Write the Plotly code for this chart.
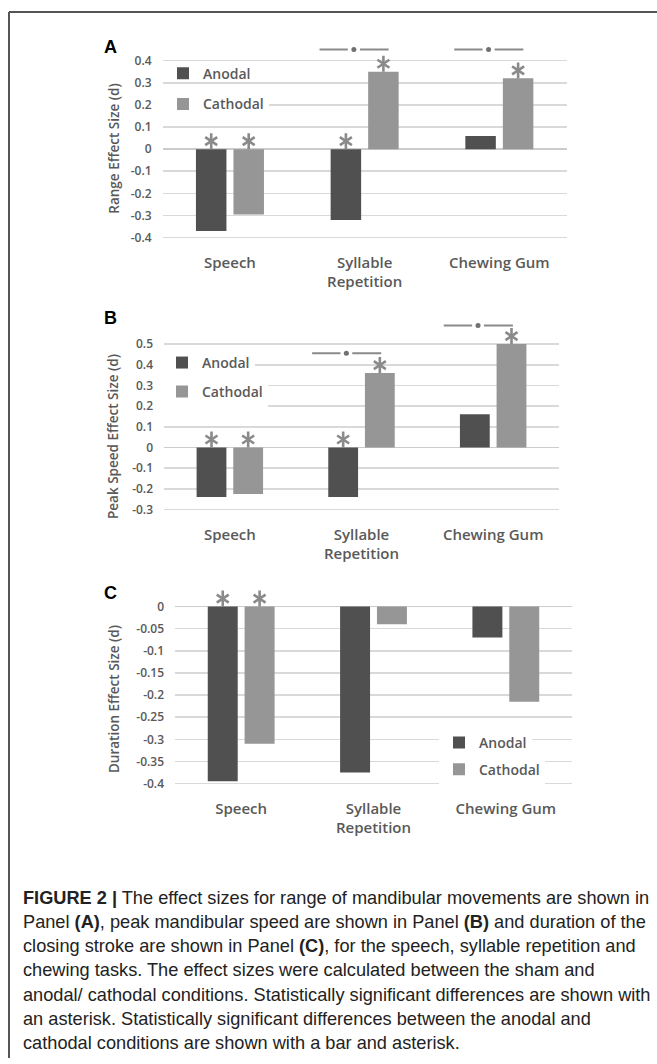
import plotly.graph_objects as go

W, H = 657, 1064

# ---------------- data ----------------
TICK_LABELS = ["Speech", "Syllable<br>Repetition", "Chewing Gum"]
SERIES = ["Anodal", "Cathodal"]

RANGE_ANODAL = [-0.37, -0.32, 0.06]
RANGE_CATHODAL = [-0.295, 0.35, 0.32]
SPEED_ANODAL = [-0.24, -0.24, 0.16]
SPEED_CATHODAL = [-0.225, 0.36, 0.50]
DURATION_ANODAL = [-0.395, -0.375, -0.07]
DURATION_CATHODAL = [-0.31, -0.04, -0.215]

# significant vs sham (asterisk above the bar)
RANGE_SIG_ANODAL = [True, True, False]
RANGE_SIG_CATHODAL = [True, True, True]
SPEED_SIG_ANODAL = [True, True, False]
SPEED_SIG_CATHODAL = [True, True, True]
DURATION_SIG_ANODAL = [True, False, False]
DURATION_SIG_CATHODAL = [True, False, False]

# significant anodal vs cathodal (bar + asterisk)
RANGE_PAIR_SIG = [False, True, True]
SPEED_PAIR_SIG = [False, True, True]
DURATION_PAIR_SIG = [False, False, False]

RANGE_TICKS = [-0.4, -0.3, -0.2, -0.1, 0, 0.1, 0.2, 0.3, 0.4]
SPEED_TICKS = [-0.3, -0.2, -0.1, 0, 0.1, 0.2, 0.3, 0.4, 0.5]
DURATION_TICKS = [-0.4, -0.35, -0.3, -0.25, -0.2, -0.15, -0.1, -0.05, 0]

CAPTION_LINES = [
    "<b>FIGURE 2 |</b> The effect sizes for range of mandibular movements are shown in",
    "Panel <b>(A)</b>, peak mandibular speed are shown in Panel <b>(B)</b> and duration of the",
    "closing stroke are shown in Panel <b>(C)</b>, for the speech, syllable repetition and",
    "chewing tasks. The effect sizes were calculated between the sham and",
    "anodal/ cathodal conditions. Statistically significant differences are shown with",
    "an asterisk. Statistically significant differences between the anodal and",
    "cathodal conditions are shown with a bar and asterisk.",
]

# ---------------- style ----------------
ANODAL_COLOR = "#505050"
CATHODAL_COLOR = "#969696"
STAR_COLOR = "#8a8a8a"
GRID_COLOR = "#d9d9d9"
ZERO_COLOR = "#cccccc"
TEXT_COLOR = "#595959"
CHART_FONT = "Open Sans, Lato, sans-serif"
BARGAP = 0.443
BARGROUPGAP = 0.187
ASTER_PX = 8.0

PANELS = [
    dict(letter="A", title="Range Effect Size (d)",
         anodal=RANGE_ANODAL, cathodal=RANGE_CATHODAL,
         sig_a=RANGE_SIG_ANODAL, sig_c=RANGE_SIG_CATHODAL, pair=RANGE_PAIR_SIG,
         ticks=RANGE_TICKS,
         zero_px=150.0, ppu=222.5, yrange=(-0.41, 0.50), xpx=(162.6, 566.7),
         bracket_y=[0.45, 0.45, 0.45], bracket=(-0.335, -0.08, 0.178),
         letter_xy=(110, 47), title_xy=(114, 149.5),
         legend_xy=[(203, 74), (203, 105)], legend_bg=["rgba(0,0,0,0)", "white"]),
    dict(letter="B", title="Peak Speed Effect Size (d)",
         anodal=SPEED_ANODAL, cathodal=SPEED_CATHODAL,
         sig_a=SPEED_SIG_ANODAL, sig_c=SPEED_SIG_CATHODAL, pair=SPEED_PAIR_SIG,
         ticks=SPEED_TICKS,
         zero_px=450.0, ppu=208.0, yrange=(-0.31, 0.65), xpx=(164.0, 559.0),
         bracket_y=[0.455, 0.455, 0.59], bracket=(-0.375, -0.115, 0.15),
         letter_xy=(110, 320), title_xy=(113, 439.5),
         legend_xy=[(202, 365), (202, 394)], legend_bg=["white", "white"]),
    dict(letter="C", title="Duration Effect Size (d)",
         anodal=DURATION_ANODAL, cathodal=DURATION_CATHODAL,
         sig_a=DURATION_SIG_ANODAL, sig_c=DURATION_SIG_CATHODAL, pair=DURATION_PAIR_SIG,
         ticks=DURATION_TICKS,
         zero_px=610.0, ppu=445.0, yrange=(-0.405, 0.04), xpx=(175.0, 572.0),
         bracket_y=[0, 0, 0], bracket=(-0.35, -0.1, 0.16),
         letter_xy=(110, 596), title_xy=(114, 703),
         legend_xy=[(479, 747), (479, 774)], legend_bg=["white", "white"]),
]

fig = go.Figure()
layout = dict(
    width=W, height=H, margin=dict(l=0, r=0, t=0, b=0),
    paper_bgcolor="white", plot_bgcolor="white",
    barmode="group", bargap=BARGAP, bargroupgap=BARGROUPGAP,
    showlegend=True,
    annotations=[], shapes=[],
)

slot = (1 - BARGAP) / 2
legend_idx = 0
for p_i, P in enumerate(PANELS):
    n = p_i + 1
    xa = "x" if n == 1 else f"x{n}"
    ya = "y" if n == 1 else f"y{n}"
    xkey = "xaxis" if n == 1 else f"xaxis{n}"
    ykey = "yaxis" if n == 1 else f"yaxis{n}"

    # bars + legends
    for s_i, (name, vals, color) in enumerate(
            [(SERIES[0], P["anodal"], ANODAL_COLOR), (SERIES[1], P["cathodal"], CATHODAL_COLOR)]):
        legend_idx += 1
        lkey = "legend" if legend_idx == 1 else f"legend{legend_idx}"
        fig.add_trace(go.Bar(
            x=[0, 1, 2], y=vals, name=name, marker=dict(color=color, line=dict(width=0)),
            xaxis=xa, yaxis=ya, legend=lkey, showlegend=True, hoverinfo="skip"))
        tx, ty = P["legend_xy"][s_i]
        layout[lkey] = dict(
            x=(tx - 40) / W, y=1 - ty / H, xanchor="left", yanchor="middle",
            bgcolor=P["legend_bg"][s_i], borderwidth=0,
            font=dict(family=CHART_FONT, size=14, color=TEXT_COLOR, weight=600),
        )

    # asterisks (significant vs sham)
    for s_i, (vals, sig) in enumerate([(P["anodal"], P["sig_a"]), (P["cathodal"], P["sig_c"])]):
        sign = -1 if s_i == 0 else 1
        xs = [i + sign * slot / 2 for i in range(3) if sig[i]]
        ys = [max(vals[i], 0) + ASTER_PX / P["ppu"] for i in range(3) if sig[i]]
        for sym in ("y-up-open", "y-down-open"):
            fig.add_trace(go.Scatter(
                x=xs, y=ys, mode="markers", xaxis=xa, yaxis=ya, showlegend=False,
                hoverinfo="skip", cliponaxis=False,
                marker=dict(symbol=sym, size=10, color=STAR_COLOR,
                            line=dict(width=2.6, color=STAR_COLOR))))

    # brackets (anodal vs cathodal)
    b0, bd, b1 = P["bracket"]
    gap = 0.045
    for i in range(3):
        if P["pair"][i]:
            y = P["bracket_y"][i]
            fig.add_trace(go.Scatter(
                x=[i + b0, i + bd - gap, None, i + bd + gap, i + b1], y=[y, y, None, y, y],
                mode="lines", line=dict(color=STAR_COLOR, width=2), xaxis=xa, yaxis=ya,
                showlegend=False, hoverinfo="skip", cliponaxis=False))
            fig.add_trace(go.Scatter(
                x=[i + bd], y=[y], mode="markers", marker=dict(size=5, color="#707070"),
                xaxis=xa, yaxis=ya, showlegend=False, hoverinfo="skip", cliponaxis=False))

    # axes
    top_px = P["zero_px"] - P["yrange"][1] * P["ppu"]
    bot_px = P["zero_px"] - P["yrange"][0] * P["ppu"]
    layout[ykey] = dict(
        domain=[1 - bot_px / H, 1 - top_px / H], range=list(P["yrange"]), anchor=xa,
        tickvals=P["ticks"], ticktext=[f"{v:g}" for v in P["ticks"]],
        showgrid=True, gridcolor=GRID_COLOR, gridwidth=1.6,
        zeroline=True, zerolinecolor=ZERO_COLOR, zerolinewidth=1.8,
        showline=False, ticks="", ticklabelstandoff=10,
        tickfont=dict(family=CHART_FONT, size=12, color=TEXT_COLOR, weight=600),
        fixedrange=True,
    )
    layout[xkey] = dict(
        domain=[P["xpx"][0] / W, P["xpx"][1] / W], range=[-0.5, 2.5], anchor=ya,
        tickvals=[0, 1, 2], ticktext=TICK_LABELS,
        showgrid=False, zeroline=False, showline=False, ticks="", ticklabelstandoff=12,
        tickfont=dict(family=CHART_FONT, size=15, color=TEXT_COLOR, weight=600),
        fixedrange=True,
    )

    # panel letter and y-axis title
    lx, ly = P["letter_xy"]
    layout["annotations"].append(dict(
        text=f"<b>{P['letter']}</b>", x=lx / W, y=1 - ly / H, xref="paper", yref="paper",
        xanchor="center", yanchor="middle", showarrow=False,
        font=dict(family="Liberation Sans, Arial, sans-serif", size=18, color="black")))
    tx, ty = P["title_xy"]
    layout["annotations"].append(dict(
        text=P["title"], x=tx / W, y=1 - ty / H, xref="paper", yref="paper",
        xanchor="center", yanchor="middle", showarrow=False, textangle=-90,
        font=dict(family=CHART_FONT, size=13.5, color=TEXT_COLOR, weight=600)))

# caption
CAP_TOP = 903
CAP_STEP = 24.33
for k, line in enumerate(CAPTION_LINES):
    layout["annotations"].append(dict(
        text=line, x=21 / W, y=1 - (CAP_TOP + k * CAP_STEP) / H, xref="paper", yref="paper",
        xanchor="left", yanchor="middle", showarrow=False, align="left",
        font=dict(family="Liberation Sans, Arial, sans-serif", size=18.2, color="#222222")))

# frame
layout["shapes"] += [
    dict(type="line", xref="paper", yref="paper", x0=9 / W, x1=1, y0=1 - 12 / H, y1=1 - 12 / H,
         line=dict(color="#555555", width=2)),
    dict(type="line", xref="paper", yref="paper", x0=9 / W, x1=9 / W, y0=1 - 12 / H, y1=0,
         line=dict(color="#555555", width=2)),
]

fig.update_layout(**layout)
fig.write_html("out.html", config={"displayModeBar": False, "staticPlot": True},
               post_script="document.body.style.margin='0';document.body.style.overflow='hidden';")
